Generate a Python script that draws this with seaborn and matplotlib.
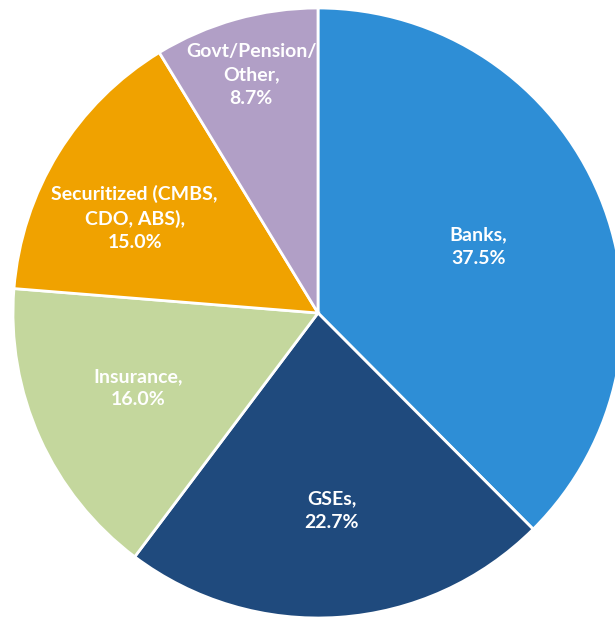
import numpy as np
import matplotlib
matplotlib.use("Agg")
import matplotlib.pyplot as plt
import seaborn as sns

sns.set_theme(style="white")
plt.rcParams['font.family'] = ['Lato', 'DejaVu Sans']

categories = ["Banks", "GSEs", "Insurance", "Securitized (CMBS,\nCDO, ABS)", "Govt/Pension/\nOther"]
values = [37.5, 22.7, 16.0, 15.0, 8.7]
colors = ["#2E8ED6", "#1F4A7D", "#C4D79D", "#F0A200", "#B19FC6"]
label_dist = [0.57, 0.65, 0.64, 0.677, 0.81]
label_ang_off = [0.0, 0.0, -1.6, 4.2, 0.0]

fig = plt.figure(figsize=(6.15, 6.2), dpi=100)
ax = fig.add_axes([0, 0, 1, 1])
wedges, _ = ax.pie(values, colors=colors, startangle=90, counterclock=False,
                   radius=1.0, wedgeprops=dict(edgecolor="white", linewidth=2))

for w, cat, v, d, off in zip(wedges, categories, values, label_dist, label_ang_off):
    ang = np.deg2rad((w.theta1 + w.theta2) / 2 + off)
    ax.text(d * np.cos(ang), d * np.sin(ang), f"{cat},\n{v:.1f}%",
            ha="center", va="center", color="white", fontsize=14,
            fontweight="bold", linespacing=1.45)

scale = 305.0
cx, cy = 318.0, 313.0
ax.set_xlim(-cx / scale, (615 - cx) / scale)
ax.set_ylim(-(620 - cy) / scale, cy / scale)
ax.set_aspect('auto')
ax.axis('off')
fig.savefig("out.png", dpi=100)
